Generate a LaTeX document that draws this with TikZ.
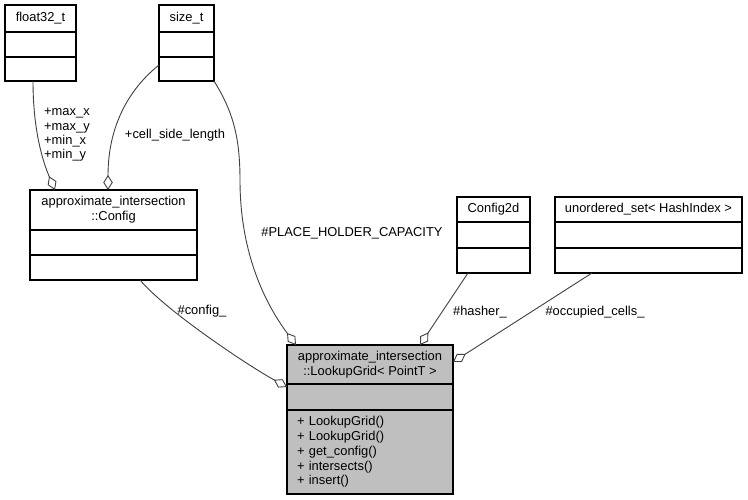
\documentclass[tikz,border=0pt]{standalone}
\usepackage{fontspec}
\setmainfont{Liberation Sans}
\usepackage{tikz}
\usetikzlibrary{positioning}
\usetikzlibrary{arrows.meta}

\begin{document}
\begin{tikzpicture}[x=1pt,y=-1pt,
    part/.style={draw=black,line width=1.1pt,fill=white,outer sep=0pt,inner sep=0pt,align=center,font=\fontsize{12.9}{15}\selectfont},
    agg/.style={draw=black!75,line width=0.9pt,-{Diamond[open,length=15pt,width=9.5pt]}},
    lbl/.style={inner sep=0pt,font=\fontsize{12.9}{14.4}\selectfont}]
        \fill[white] (0,0) rectangle (748,500);
        \useasboundingbox (0,0) rectangle (748,500);

        \node[part,minimum width=71pt,minimum height=27pt] (f32h) at (40.5,18.5) {float32\_t};
        \node[part,minimum width=71pt,minimum height=25pt,below=0pt of f32h] (f32a) {};
        \node[part,minimum width=71pt,minimum height=24pt,below=0pt of f32a] (f32m) {};

        \node[part,minimum width=55pt,minimum height=27pt] (sizeh) at (186.5,18.5) {size\_t};
        \node[part,minimum width=55pt,minimum height=25pt,below=0pt of sizeh] (sizea) {};
        \node[part,minimum width=55pt,minimum height=24pt,below=0pt of sizea] (sizem) {};

        \node[part,minimum width=167pt,minimum height=40pt] (cfgh) at (113.5,210) {approximate\_intersection\\::Config};
        \node[part,minimum width=167pt,minimum height=25pt,below=0pt of cfgh] (cfga) {};
        \node[part,minimum width=167pt,minimum height=25pt,below=0pt of cfga] (cfgm) {};

        \node[part,minimum width=73pt,minimum height=25pt] (c2dh) at (493.5,209.5) {Config2d};
        \node[part,minimum width=73pt,minimum height=26pt,below=0pt of c2dh] (c2da) {};
        \node[part,minimum width=73pt,minimum height=25pt,below=0pt of c2da] (c2dm) {};

        \node[part,minimum width=187pt,minimum height=25pt] (ush) at (648.5,209.5) {unordered\_set< HashIndex >};
        \node[part,minimum width=187pt,minimum height=26pt,below=0pt of ush] (usa) {};
        \node[part,minimum width=187pt,minimum height=25pt,below=0pt of usa] (usm) {};

        \node[part,fill=black!25,minimum width=166pt,minimum height=39pt] (lgh) at (370,364.5) {approximate\_intersection\\::LookupGrid< PointT >};
        \node[part,fill=black!25,minimum width=166pt,minimum height=26pt,below=0pt of lgh] (lga) {};
        \node[part,fill=black!25,minimum height=84pt,text width=146pt,inner xsep=10pt,align=left,
              font=\fontsize{12.9}{14.7}\selectfont,below=0pt of lga] (lgm)
              {+ LookupGrid()\\+ LookupGrid()\\+ get\_config()\\+ intersects()\\+ insert()};

        \draw[agg] ([xshift=-7.5pt]f32m.south) .. controls +(0,50) and +(-12,-28) .. ([xshift=25pt]cfgh.north west);
        \draw[agg] ([yshift=4pt]sizem.west) .. controls +(-25,20) and +(0,-70) .. ([xshift=78pt]cfgh.north west);
        \draw[agg] (sizem.south east) .. controls (232,110) and (240,135) .. (240,180)
            .. controls (240,260) and (270,310) .. ([xshift=9pt]lgh.north west);
        \draw[agg] ([xshift=26.5pt]cfgm.south) .. controls +(25,30) and +(-40,-22) .. ([yshift=-3pt]lgh.south west);
        \draw[agg] ([xshift=-25.5pt]c2dm.south) -- ([xshift=-33pt]lgh.north east);
        \draw[agg] ([xshift=-56.5pt]usm.south) -- ([yshift=2.5pt]lgh.east);

        \node[lbl,align=left,anchor=west] (lminmax) at (44,135) {+max\_x\\+max\_y\\+min\_x\\+min\_y};
        \node[lbl] (lcell) at (175,135) {+cell\_side\_length};
        \node[lbl] (lcap) at (352,233) {\#PLACE\_HOLDER\_CAPACITY};
        \node[lbl] (lconfig) at (202,311) {\#config\_};
        \node[lbl] (lhasher) at (480,312) {\#hasher\_};
        \node[lbl] (lcells) at (595,312) {\#occupied\_cells\_};
    \end{tikzpicture}
\end{document}
